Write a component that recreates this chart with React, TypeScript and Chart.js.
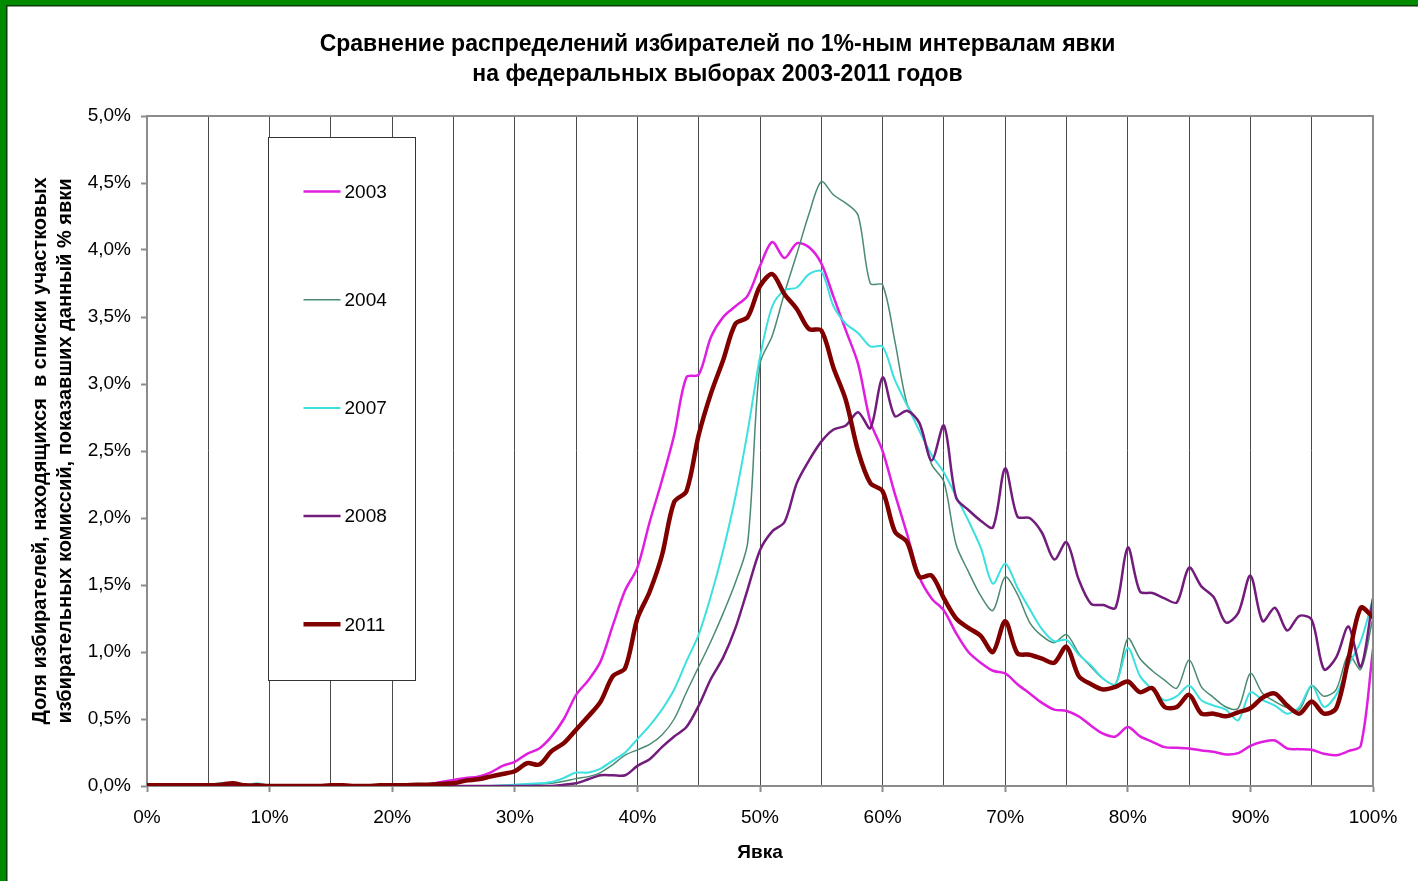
import React, { useEffect, useRef } from 'react';
import { Chart, registerables } from 'chart.js';

Chart.register(...registerables);

const turnout = [
  0, 1, 2, 3, 4, 5, 6, 7, 8, 9, 10, 11, 12, 13, 14, 15, 16, 17, 18, 19, 20,
  21, 22, 23, 24, 25, 26, 27, 28, 29, 30, 31, 32, 33, 34, 35, 36, 37, 38, 39, 40,
  41, 42, 43, 44, 45, 46, 47, 48, 49, 50, 51, 52, 53, 54, 55, 56, 57, 58, 59, 60,
  61, 62, 63, 64, 65, 66, 67, 68, 69, 70, 71, 72, 73, 74, 75, 76, 77, 78, 79, 80,
  81, 82, 83, 84, 85, 86, 87, 88, 89, 90, 91, 92, 93, 94, 95, 96, 97, 98, 99, 100,
];

const years = ['2003', '2004', '2007', '2008', '2011'];

const v2003 = [
  0, 0, 0, 0, 0, 0.005, 0.005, 0, 0, 0,
  0, 0, 0, 0, 0, 0, 0, 0, 0, 0,
  0.005, 0.01, 0.01, 0.015, 0.03, 0.045, 0.06, 0.07, 0.1, 0.15,
  0.18, 0.24, 0.28, 0.37, 0.5, 0.68, 0.79, 0.93, 1.2, 1.46,
  1.63, 1.97, 2.28, 2.62, 3.05, 3.07, 3.35, 3.5, 3.58, 3.66,
  3.88, 4.06, 3.94, 4.05, 4.02, 3.9, 3.65, 3.4, 3.15, 2.72,
  2.5, 2.18, 1.88, 1.56, 1.4, 1.31, 1.14, 1.0, 0.92, 0.86,
  0.84, 0.76, 0.69, 0.62, 0.57, 0.56, 0.52, 0.45, 0.39, 0.37,
  0.44, 0.37, 0.33, 0.29, 0.285, 0.28, 0.265, 0.255, 0.235, 0.245,
  0.3, 0.33, 0.34, 0.28, 0.275, 0.27, 0.24, 0.23, 0.26, 0.3, 1.02,
];

const v2004 = [
  0, 0, 0, 0, 0, 0, 0.005, 0, 0, 0,
  0, 0, 0, 0, 0, 0, 0, 0, 0, 0,
  0, 0, 0, 0, 0, 0, 0, 0, 0, 0,
  0.005, 0.01, 0.015, 0.02, 0.035, 0.055, 0.07, 0.1, 0.16, 0.23,
  0.27, 0.31, 0.38, 0.5, 0.7, 0.89, 1.08, 1.29, 1.52, 1.82,
  3.15, 3.36, 3.68, 3.97, 4.27, 4.51, 4.41, 4.35, 4.26, 3.75,
  3.74, 3.32, 2.85, 2.7, 2.4, 2.27, 1.8, 1.6, 1.42, 1.31,
  1.56, 1.43, 1.22, 1.12, 1.07, 1.13, 0.99, 0.89, 0.8, 0.76,
  1.1, 0.95, 0.86, 0.79, 0.73, 0.94, 0.74, 0.66, 0.59, 0.58,
  0.84, 0.69, 0.63, 0.585, 0.57, 0.75, 0.67, 0.72, 0.98, 0.87, 1.26,
];

const v2007 = [
  0, 0, 0, 0, 0, 0.005, 0.02, 0.01, 0.005, 0.02,
  0, 0, 0, 0, 0, 0, 0, 0, 0, 0,
  0, 0, 0, 0, 0, 0, 0, 0, 0, 0.005,
  0.01, 0.015, 0.02, 0.03, 0.06, 0.1, 0.1, 0.13, 0.19, 0.25,
  0.35, 0.45, 0.57, 0.72, 0.93, 1.13, 1.42, 1.76, 2.16, 2.65,
  3.2, 3.58, 3.7, 3.72, 3.82, 3.84, 3.58, 3.45, 3.38, 3.28,
  3.28, 3.03, 2.84, 2.65, 2.47, 2.34, 2.16, 1.98, 1.78, 1.51,
  1.66, 1.48, 1.32, 1.17, 1.08, 1.09, 0.98, 0.9, 0.8, 0.76,
  1.03, 0.82, 0.72, 0.64, 0.67, 0.75, 0.64, 0.6, 0.57, 0.49,
  0.7, 0.64, 0.6, 0.54, 0.59, 0.75, 0.59, 0.68, 0.9, 1.08, 1.4,
];

const v2008 = [
  0, 0, 0, 0, 0, 0, 0, 0, 0, 0,
  0, 0, 0, 0, 0, 0, 0, 0, 0, 0,
  0, 0, 0, 0, 0, 0, 0, 0, 0, 0,
  0, 0, 0, 0, 0.01, 0.02, 0.05, 0.08, 0.08, 0.08,
  0.15, 0.2, 0.29, 0.37, 0.44, 0.6, 0.8, 0.96, 1.18, 1.47,
  1.76, 1.9, 1.97, 2.26, 2.43, 2.57, 2.66, 2.69, 2.79, 2.67,
  3.05, 2.76, 2.8, 2.71, 2.43, 2.69, 2.15, 2.06, 1.98, 1.93,
  2.37, 2.01, 2.0, 1.89, 1.69, 1.82, 1.54, 1.36, 1.35, 1.33,
  1.78, 1.45, 1.44, 1.4, 1.37, 1.63, 1.49, 1.41, 1.22, 1.29,
  1.57, 1.23, 1.33, 1.16, 1.27, 1.24, 0.87, 0.96, 1.19, 0.89, 1.4,
];

const v2011 = [
  0.005, 0.005, 0.005, 0.005, 0.005, 0.005, 0.01, 0.02, 0.005, 0.005,
  0, 0, 0, 0, 0, 0.005, 0.005, 0, 0, 0.005,
  0.005, 0.005, 0.01, 0.01, 0.015, 0.02, 0.04, 0.05, 0.07, 0.09,
  0.11, 0.17, 0.16, 0.26, 0.32, 0.42, 0.52, 0.63, 0.82, 0.88,
  1.25, 1.45, 1.72, 2.12, 2.2, 2.62, 2.93, 3.18, 3.45, 3.5,
  3.73, 3.82, 3.67, 3.56, 3.41, 3.4, 3.12, 2.88, 2.5, 2.26,
  2.2, 1.9, 1.82, 1.56, 1.57, 1.4, 1.25, 1.18, 1.12, 1.0,
  1.23, 0.99, 0.98, 0.95, 0.92, 1.04, 0.82, 0.76, 0.72, 0.74,
  0.78, 0.7, 0.73, 0.59, 0.59, 0.68, 0.54, 0.54, 0.52, 0.55,
  0.58, 0.66, 0.69, 0.6, 0.54, 0.63, 0.54, 0.58, 0.95, 1.33, 1.26,
];

const seriesColors = ['#E01EE0', '#4A8B72', '#3CE0E0', '#721C7C', '#800000'];
const seriesWidths = [2.5, 1.5, 2, 2.5, 4.5];
const seriesOrder = [4, 3, 2, 1, 0];

const titleLines = [
  'Сравнение распределений избирателей по 1%-ным интервалам явки',
  'на федеральных выборах 2003-2011 годов',
];
const yTitleLines = [
  'Доля избирателей, находящихся  в списки участковых',
  'избирательных комиссий, показавших данный % явки',
];
const xTitle = 'Явка';

const FONT = '"Liberation Sans", Arial, sans-serif';

export default function App() {
  const ref = useRef<HTMLCanvasElement>(null);

  useEffect(() => {
    const canvas = ref.current;
    if (!canvas) return;
    const series = [v2003, v2004, v2007, v2008, v2011];

    const decor = {
      id: 'decor',
      beforeDraw(chart: any) {
        const { ctx } = chart;
        ctx.save();
        ctx.fillStyle = '#ffffff';
        ctx.fillRect(0, 0, chart.width, chart.height);
        ctx.restore();
      },
      afterDatasetsDraw(chart: any) {
        const { ctx, chartArea } = chart;
        ctx.save();
        ctx.strokeStyle = '#8c8c8c';
        ctx.lineWidth = 2;
        ctx.beginPath();
        ctx.moveTo(chartArea.left, chartArea.top);
        ctx.lineTo(chartArea.right, chartArea.top);
        ctx.lineTo(chartArea.right, chartArea.bottom);
        ctx.stroke();

        const lx = chartArea.left + 121.5;
        const ly = chartArea.top + 21.5;
        const lw = 147;
        const lh = 543;
        ctx.fillStyle = '#ffffff';
        ctx.fillRect(lx, ly, lw, lh);
        ctx.strokeStyle = '#333333';
        ctx.lineWidth = 1;
        ctx.strokeRect(lx, ly, lw, lh);
        ctx.font = `19px ${FONT}`;
        ctx.textBaseline = 'middle';
        ctx.textAlign = 'left';
        chart.data.datasets.forEach((ds: any, i: number) => {
          const y = ly + 54 + i * 108.2;
          ctx.strokeStyle = ds.borderColor;
          ctx.lineWidth = ds.borderWidth;
          ctx.beginPath();
          ctx.moveTo(lx + 35, y);
          ctx.lineTo(lx + 72, y);
          ctx.stroke();
          ctx.fillStyle = '#000000';
          ctx.fillText(ds.label, lx + 76, y + 1);
        });
        ctx.restore();
      },
      afterDraw(chart: any) {
        const { ctx } = chart;
        ctx.save();
        ctx.fillStyle = '#000000';
        ctx.font = `bold 23px ${FONT}`;
        ctx.textAlign = 'center';
        ctx.textBaseline = 'middle';
        titleLines.forEach((t, i) => ctx.fillText(t, 717.5, 45 + i * 30));
        ctx.fillStyle = '#008a00';
        ctx.fillRect(0, 0, chart.width, 5);
        ctx.fillRect(0, 0, 6, chart.height);
        ctx.fillStyle = '#0b3d0b';
        ctx.fillRect(6, 5, chart.width - 6, 1.5);
        ctx.fillRect(6, 5, 1.5, chart.height - 5);
        ctx.restore();
      },
    };

    const chart = new Chart(canvas, {
      type: 'line',
      data: {
        datasets: series.map((vals, i) => ({
          label: years[i],
          data: turnout.map((t, j) => ({ x: t, y: vals[j] })),
          borderColor: seriesColors[i],
          backgroundColor: seriesColors[i],
          borderWidth: seriesWidths[i],
          pointRadius: 0,
          pointHoverRadius: 0,
          tension: 0.3,
          fill: false,
          order: seriesOrder[i],
          borderJoinStyle: 'round' as const,
          borderCapStyle: 'round' as const,
        })),
      },
      options: {
        animation: false,
        responsive: false,
        maintainAspectRatio: false,
        events: [],
        layout: { padding: { top: 116, right: 45, bottom: 0, left: 0 } },
        plugins: {
          legend: { display: false },
          title: { display: false },
          tooltip: { enabled: false },
        },
        scales: {
          x: {
            type: 'linear',
            min: 0,
            max: 100,
            afterFit(scale: any) {
              scale.height = 95;
            },
            ticks: {
              stepSize: 5,
              autoSkip: false,
              maxRotation: 0,
              minRotation: 0,
              padding: 14,
              color: '#000000',
              font: { family: FONT, size: 19 },
              callback: (v: any) => (Number(v) % 10 === 0 ? `${v}%` : ''),
            },
            grid: {
              color: '#4a4a4a',
              lineWidth: 1,
              drawTicks: true,
              tickLength: 6,
              tickWidth: 2,
              tickColor: (ctx: any) =>
                ctx.tick && ctx.tick.value % 10 === 0 ? '#8c8c8c' : 'rgba(0,0,0,0)',
            },
            border: { display: true, color: '#8c8c8c', width: 2 },
            title: {
              display: true,
              text: xTitle,
              color: '#000000',
              font: { family: FONT, size: 19, weight: 'bold' },
              padding: { top: 0, bottom: 17 },
            },
          },
          y: {
            type: 'linear',
            min: 0,
            max: 5,
            afterFit(scale: any) {
              scale.width = 147;
            },
            ticks: {
              stepSize: 0.5,
              padding: 10,
              color: '#000000',
              font: { family: FONT, size: 19 },
              callback: (v: any) => `${Number(v).toFixed(1).replace('.', ',')}%`,
            },
            grid: {
              drawOnChartArea: false,
              drawTicks: true,
              tickLength: 6,
              tickWidth: 2,
              tickColor: '#8c8c8c',
            },
            border: { display: true, color: '#8c8c8c', width: 2 },
            title: {
              display: true,
              text: yTitleLines,
              color: '#000000',
              font: { family: FONT, size: 20, weight: 'bold', lineHeight: 1.25 },
              padding: { top: 27.5, bottom: 0 },
            },
          },
        },
      },
      plugins: [decor],
    });

    return () => chart.destroy();
  }, []);

  return (
    <div style={{ position: 'absolute', left: 0, top: 0, width: 1418, height: 881, background: '#ffffff' }}>
      <canvas ref={ref} width={1418} height={881} style={{ display: 'block', width: 1418, height: 881 }} />
    </div>
  );
}
